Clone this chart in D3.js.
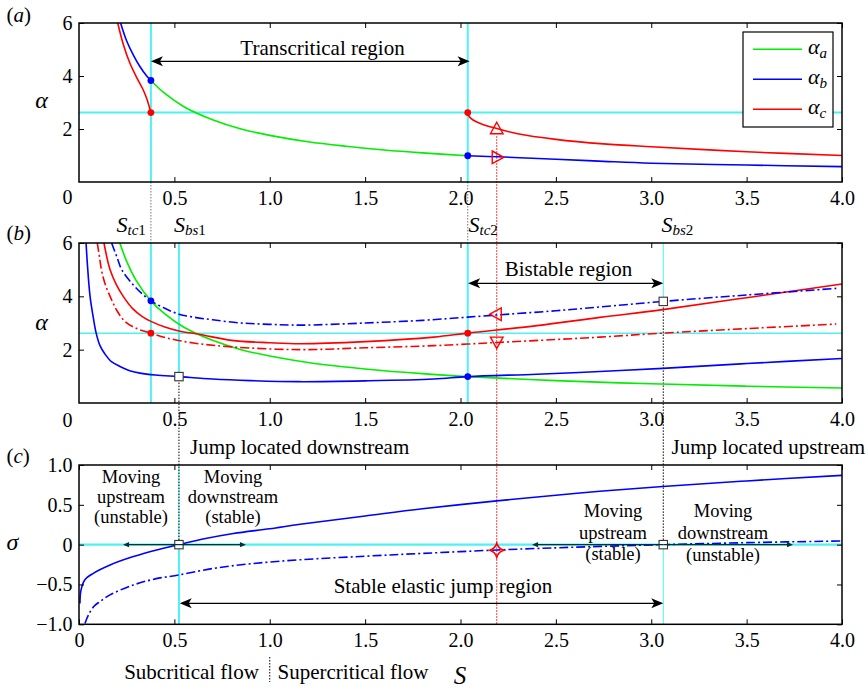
<!DOCTYPE html>
<html><head><meta charset="utf-8">
<script src="https://cdn.jsdelivr.net/npm/d3@7"></script>
<style>
body{margin:0;background:#fff}
svg{display:block}
text{font-family:"Liberation Serif","Times New Roman",serif;fill:#000}
</style>
</head><body>
<svg id="chart" width="868" height="692"></svg>
<script>
// ---------- data ----------
const S_tc1 = 0.377, S_bs1 = 0.524, S_tc2 = 2.038, S_bs2 = 3.063, S_mk = 2.19, alphaC = 2.618;

const xTickVals = [0.5, 1.0, 1.5, 2.0, 2.5, 3.0, 3.5, 4.0];
const xTickLabels = ["0.5", "1.0", "1.5", "2.0", "2.5", "3.0", "3.5", "4.0"];
const cXTickVals = [0, 0.5, 1.0, 1.5, 2.0, 2.5, 3.0, 3.5, 4.0];
const cXTickLabels = ["0", "0.5", "1.0", "1.5", "2.0", "2.5", "3.0", "3.5", "4.0"];
const abYTickVals = [2, 4, 6];
const abYTickLabels = ["2", "4", "6"];
const cYTickVals = [-1, -0.5, 0, 0.5, 1];
const cYTickLabels = ["\u22121.0", "\u22120.5", "0", "0.5", "1.0"];

// panel (a): [S, alpha]
const aGreen = [[0.377,3.83],[0.45,3.34],[0.55,2.84],[0.7,2.35],[0.85,2.0],[1.0,1.76],[1.2,1.52],[1.4,1.35],[1.6,1.21],[1.8,1.1],[2.038,0.99]];
const aBlueLeft = [[0.218,6.0],[0.25,5.32],[0.285,4.79],[0.32,4.35],[0.355,4.0],[0.377,3.83]];
const aRedLeft = [[0.203,6.0],[0.232,5.2],[0.267,4.48],[0.302,3.95],[0.335,3.5],[0.355,3.15],[0.368,2.85],[0.377,2.62]];
const aRedRight = [[2.038,2.62],[2.043,2.5],[2.056,2.39],[2.08,2.28],[2.12,2.16],[2.19,2.02],[2.3,1.82],[2.5,1.61],[2.75,1.44],[3.0,1.33],[3.5,1.14],[4.0,1.0]];
const aBlueRight = [[2.038,0.99],[2.2,0.95],[2.5,0.86],[2.75,0.78],[3.0,0.71],[3.5,0.64],[4.0,0.58]];
const aBlueDots = [[S_tc1,3.83],[S_tc2,0.99]];
const aRedDots = [[S_tc1,alphaC],[S_tc2,alphaC]];
const aTriUp = [[S_mk,1.99]];
const aTriRight = [[S_mk,0.93]];

// panel (b): [S, alpha]
const bGreen = [[0.214,6.0],[0.25,5.31],[0.3,4.59],[0.377,3.83],[0.45,3.34],[0.55,2.84],[0.7,2.35],[0.85,2.0],[1.0,1.76],[1.2,1.52],[1.4,1.35],[1.6,1.21],[1.8,1.1],[2.038,0.99],[2.5,0.84],[3.0,0.72],[3.5,0.63],[4.0,0.56]];
const bBlueSolid = [[0.037,6.0],[0.045,5.1],[0.058,4.0],[0.075,3.2],[0.09,2.62],[0.11,2.15],[0.135,1.85],[0.17,1.55],[0.215,1.37],[0.27,1.2],[0.32,1.12],[0.4,1.05],[0.524,0.99],[0.7,0.9],[0.9,0.84],[1.15,0.8],[1.5,0.83],[1.86,0.9],[2.038,0.99],[2.4,1.08],[2.73,1.18],[3.06,1.3],[3.5,1.48],[4.0,1.67]];
const bBlueDash = [[0.171,6.0],[0.2,5.45],[0.224,5.0],[0.276,4.5],[0.33,4.1],[0.377,3.83],[0.45,3.55],[0.524,3.33],[0.6,3.22],[0.7,3.12],[0.85,3.0],[1.0,2.95],[1.16,2.92],[1.5,3.0],[1.8,3.1],[2.038,3.22],[2.19,3.3],[2.5,3.46],[2.73,3.6],[3.06,3.81],[3.5,4.05],[3.97,4.3]];
const bRedSolid = [[0.131,6.0],[0.145,5.5],[0.163,5.0],[0.195,4.45],[0.232,4.0],[0.28,3.55],[0.33,3.25],[0.377,3.06],[0.45,2.85],[0.524,2.7],[0.634,2.57],[0.8,2.35],[1.0,2.26],[1.16,2.22],[1.5,2.3],[1.86,2.47],[2.038,2.62],[2.4,2.9],[2.73,3.21],[3.06,3.5],[3.5,3.95],[4.0,4.46]];
const bRedDash = [[0.096,6.0],[0.107,5.5],[0.119,4.94],[0.14,4.4],[0.171,3.87],[0.2,3.45],[0.241,3.06],[0.3,2.8],[0.377,2.62],[0.46,2.44],[0.6,2.25],[0.81,2.1],[1.16,2.0],[1.5,2.07],[1.86,2.15],[2.038,2.21],[2.19,2.27],[2.5,2.38],[2.73,2.47],[3.06,2.62],[3.5,2.79],[3.97,2.96]];
const bBlueDots = [[S_tc1,3.83],[S_tc2,0.99]];
const bRedDots = [[S_tc1,alphaC],[S_tc2,alphaC]];
const bSquares = [[S_bs1,0.99],[S_bs2,3.81]];
const bTriLeft = [[S_mk,3.33]];
const bTriDown = [[S_mk,2.3]];

// panel (c): [S, sigma]
const cBlueSolid = [[0.005,-0.74],[0.0105,-0.57],[0.031,-0.44],[0.075,-0.36],[0.163,-0.255],[0.285,-0.15],[0.407,-0.067],[0.524,0.0],[0.65,0.07],[0.809,0.14],[1.0,0.2],[1.159,0.256],[1.5,0.36],[1.8,0.45],[2.19,0.55],[2.5,0.62],[2.73,0.67],[3.06,0.73],[3.5,0.8],[4.0,0.87]];
const cBlueDash = [[0.031,-0.99],[0.05,-0.88],[0.08,-0.77],[0.11,-0.715],[0.163,-0.63],[0.285,-0.506],[0.4,-0.43],[0.524,-0.38],[0.7,-0.3],[0.9,-0.24],[1.159,-0.19],[1.5,-0.145],[1.8,-0.11],[2.19,-0.067],[2.5,-0.04],[2.73,-0.022],[3.06,0.0],[3.5,0.025],[4.0,0.046]];
const cSquares = [[S_bs1,0],[S_bs2,0]];
const cDiamond = [[S_mk,-0.07]];

// ---------- drawing ----------
const svg = d3.select("#chart");
const CY = "#4ff2f2", BL = "#0000ff", RD = "#ff0000", GR = "#00ee00";
const DASHDOT = "9,3,2,3";

const x = d3.scaleLinear().domain([0, 4]).range([79, 842]);
const ya = d3.scaleLinear().domain([0, 6]).range([182, 23]);
const yb = d3.scaleLinear().domain([0, 6]).range([403, 243]);
const yc = d3.scaleLinear().domain([-1, 1]).range([624.3, 465]);

const gCyan = svg.append("g");
const gDot = svg.append("g");
const gCurve = svg.append("g");
const gMark = svg.append("g");
const gAnno = svg.append("g");
const gAxis = svg.append("g");

function vline(g, s, y1, y2, color, w, dash) {
  g.append("line").attr("x1", x(s)).attr("x2", x(s)).attr("y1", y1).attr("y2", y2)
    .attr("stroke", color).attr("stroke-width", w).attr("stroke-dasharray", dash || null);
}
function hline(g, y, yv, color, w) {
  g.append("line").attr("x1", x(0)).attr("x2", x(4)).attr("y1", y(yv)).attr("y2", y(yv))
    .attr("stroke", color).attr("stroke-width", w);
}

// cyan guide lines
vline(gCyan, S_tc1, ya(6), ya(0), CY, 2);
vline(gCyan, S_tc2, ya(6), ya(0), CY, 2);
hline(gCyan, ya, alphaC, CY, 2);
vline(gCyan, S_tc1, yb(6), yb(0), CY, 2);
vline(gCyan, S_tc2, yb(6), yb(0), CY, 2);
vline(gCyan, S_bs1, yb(6), yb(bSquares[0][1]), CY, 2);
vline(gCyan, S_bs2, yb(6), yb(bSquares[1][1]), CY, 1);
hline(gCyan, yb, alphaC, CY, 1.5);
hline(gCyan, yc, 0, CY, 2.2);
vline(gCyan, S_bs1, yc(1), yc(-1), CY, 1);
vline(gCyan, S_bs1, yc(0), yc(-1), CY, 2);
vline(gCyan, S_bs2, yc(0), yc(-1), CY, 1);

// dotted connectors
vline(gDot, S_tc1, ya(0), yb(6), "#777", 1, "1.5,1.5");
vline(gDot, S_tc2, ya(0), yb(6), "#777", 1, "1.5,1.5");
vline(gDot, S_mk, ya(aTriUp[0][1]) + 7, yc(-1), RD, 1, "1.5,1.5");
vline(gDot, S_bs1, yb(bSquares[0][1]), yc(0), "#000", 1, "1.5,1.5");
vline(gDot, S_bs2, yb(bSquares[1][1]), yc(0), "#000", 1, "1.5,1.5");
vline(gDot, 1.0, 657, 682, "#000", 1, "1.5,1.5");

// curves
function curve(data, y, color, dash, w) {
  const ln = d3.line().x(d => x(d[0])).y(d => y(d[1])).curve(d3.curveCatmullRom.alpha(0.5));
  gCurve.append("path").attr("d", ln(data)).attr("fill", "none").attr("stroke", color)
    .attr("stroke-width", w || 1.6).attr("stroke-dasharray", dash || null);
}
curve(aGreen, ya, GR);
curve(aBlueLeft, ya, BL);
curve(aRedLeft, ya, RD);
curve(aRedRight, ya, RD);
curve(aBlueRight, ya, BL);

curve(bGreen, yb, GR);
curve(bRedSolid, yb, RD);
curve(bRedDash, yb, RD, DASHDOT);
curve(bBlueDash, yb, BL, DASHDOT);
curve(bBlueSolid, yb, BL);

curve(cBlueDash, yc, BL, DASHDOT);
curve(cBlueSolid, yc, BL);

// "moving" arrows on sigma = 0 (panel c)
function smallArrow(s0, s1) {
  const y0 = yc(0), x0 = x(s0), x1 = x(s1), dir = Math.sign(x1 - x0);
  gAnno.append("line").attr("x1", x0).attr("x2", x1 - dir * 3).attr("y1", y0).attr("y2", y0)
    .attr("stroke", "#033").attr("stroke-width", 1.3);
  gAnno.append("path").attr("d", `M${x1},${y0}L${x1 - dir * 6},${y0 - 2.6}L${x1 - dir * 6},${y0 + 2.6}Z`)
    .attr("fill", "#033");
}
smallArrow(S_bs1, 0.231);
smallArrow(S_bs1, 0.875);
smallArrow(S_bs2, 2.375);
smallArrow(S_bs2, 3.743);

// markers
function dots(data, y, color) {
  gMark.selectAll(null).data(data).enter().append("circle")
    .attr("cx", d => x(d[0])).attr("cy", d => y(d[1])).attr("r", 3.4).attr("fill", color);
}
function squares(data, y) {
  gMark.selectAll(null).data(data).enter().append("rect")
    .attr("x", d => x(d[0]) - 4.2).attr("y", d => y(d[1]) - 4.2).attr("width", 8.4).attr("height", 8.4)
    .attr("fill", "#fff").attr("stroke", "#333").attr("stroke-width", 1.1);
}
function triangles(data, y, rot) {
  gMark.selectAll(null).data(data).enter().append("path")
    .attr("d", "M0,-7L6.3,4.5L-6.3,4.5Z")
    .attr("transform", d => `translate(${x(d[0])},${y(d[1])}) rotate(${rot})`)
    .attr("fill", "none").attr("stroke", RD).attr("stroke-width", 1.4);
}
function diamonds(data, y) {
  gMark.selectAll(null).data(data).enter().append("path")
    .attr("d", "M0,-7Q1.6,-1.6 7,0Q1.6,1.6 0,7Q-1.6,1.6 -7,0Q-1.6,-1.6 0,-7Z")
    .attr("transform", d => `translate(${x(d[0])},${y(d[1])})`)
    .attr("fill", "none").attr("stroke", RD).attr("stroke-width", 1.6);
}
dots(aBlueDots, ya, BL); dots(aRedDots, ya, RD);
triangles(aTriUp, ya, 0); triangles(aTriRight, ya, 90);
dots(bBlueDots, yb, BL); dots(bRedDots, yb, RD);
squares(bSquares, yb);
triangles(bTriLeft, yb, -90); triangles(bTriDown, yb, 180);
squares(cSquares, yc);
diamonds(cDiamond, yc);

// double arrows
function bigArrowHead(tx, ty, dir) {
  gAnno.append("path")
    .attr("d", `M${tx},${ty}L${tx - dir * 12},${ty - 5}L${tx - dir * 9},${ty}L${tx - dir * 12},${ty + 5}Z`)
    .attr("fill", "#000");
}
function doubleArrow(s1, s2, yPix) {
  gAnno.append("line").attr("x1", x(s1) + 6).attr("x2", x(s2) - 6).attr("y1", yPix).attr("y2", yPix)
    .attr("stroke", "#000").attr("stroke-width", 1.3);
  bigArrowHead(x(s1), yPix, -1);
  bigArrowHead(x(s2), yPix, 1);
}
doubleArrow(S_tc1, S_tc2 + 0.01, 61.3);
doubleArrow(S_tc2 + 0.002, S_bs2, 283.3);
doubleArrow(S_bs1 + 0.004, S_bs2, 603.3);

function txt(g, str, xp, yp, size, anchor, italic) {
  return g.append("text").attr("x", xp).attr("y", yp).attr("font-size", size)
    .attr("text-anchor", anchor || "start").attr("font-style", italic ? "italic" : null).text(str);
}
txt(gAnno, "Transcritical region", 322.5, 55, 21, "middle");
txt(gAnno, "Bistable region", 568.5, 276, 21, "middle");
txt(gAnno, "Stable elastic jump region", 443, 593, 21, "middle");
txt(gAnno, "Jump located downstream", 190, 454, 21, "start");
txt(gAnno, "Jump located upstream", 671.5, 454, 21, "start");
txt(gAnno, "Subcritical flow", 191.5, 679, 21, "middle");
txt(gAnno, "Supercritical flow", 353, 679, 21, "middle");
txt(gAnno, "S", 460, 684, 25, "middle", true);

function block(lines, cx, ys) {
  lines.forEach((l, i) => txt(gAnno, l, cx, ys[i], 18.5, "middle"));
}
block(["Moving", "upstream", "(unstable)"], 131, [483, 503, 523]);
block(["Moving", "downstream", "(stable)"], 233, [483, 503, 523]);
block(["Moving", "upstream", "(stable)"], 613, [517, 539, 560]);
block(["Moving", "downstream", "(unstable)"], 723, [517, 539, 561]);

// S labels above panel (b)
function sLabel(xp, sub1, sub2) {
  const t = gAnno.append("text").attr("x", xp).attr("y", 232).attr("font-size", 22);
  t.append("tspan").attr("font-style", "italic").text("S");
  t.append("tspan").attr("font-style", "italic").attr("font-size", 15).attr("dy", 3).text(sub1);
  t.append("tspan").attr("font-size", 15).text(sub2);
}
sLabel(116.5, "tc", "1");
sLabel(174, "bs", "1");
sLabel(468.5, "tc", "2");
sLabel(661.5, "bs", "2");

// panel letters & y-axis symbols
function panelLabel(letter, yp) {
  const t = gAnno.append("text").attr("x", 6.5).attr("y", yp).attr("font-size", 21);
  t.append("tspan").text("(");
  t.append("tspan").attr("font-style", "italic").text(letter);
  t.append("tspan").text(")");
}
panelLabel("a", 22);
panelLabel("b", 240);
panelLabel("c", 463);
txt(gAnno, "\u03b1", 41.5, 108, 24, "middle", true);
txt(gAnno, "\u03b1", 41.5, 330, 24, "middle", true);
txt(gAnno, "\u03c3", 12.5, 550, 24, "middle", true);

// axes & frames
function panelAxes(y, xVals, xLabs, yVals, yLabs) {
  const [y0, y1] = y.range();
  const g = gAxis.append("g");
  const style = sel => {
    sel.select(".domain").remove();
    sel.attr("font-family", null).attr("font-size", 20);
    sel.selectAll("line").attr("stroke", "#000").attr("stroke-width", 1);
    sel.selectAll("text").attr("fill", "#000");
  };
  g.append("g").attr("transform", `translate(0,${y0})`)
    .call(d3.axisBottom(x).tickValues(xVals).tickFormat((d, i) => xLabs[i]).tickSize(-5).tickPadding(8.5)).call(style);
  g.append("g").attr("transform", `translate(0,${y1})`)
    .call(d3.axisTop(x).tickValues(xVals).tickFormat("").tickSize(-5)).call(style);
  g.append("g").attr("transform", `translate(${x(0)},0)`)
    .call(d3.axisLeft(y).tickValues(yVals).tickFormat((d, i) => yLabs[i]).tickSize(-5).tickPadding(6.5)).call(style);
  g.append("g").attr("transform", `translate(${x(4)},0)`)
    .call(d3.axisRight(y).tickValues(yVals).tickFormat("").tickSize(-5)).call(style);
  g.append("rect").attr("x", x(0)).attr("y", y1).attr("width", x(4) - x(0)).attr("height", y0 - y1)
    .attr("fill", "none").attr("stroke", "#000").attr("stroke-width", 1.5);
}
panelAxes(ya, xTickVals, xTickLabels, abYTickVals, abYTickLabels);
panelAxes(yb, xTickVals, xTickLabels, abYTickVals, abYTickLabels);
panelAxes(yc, cXTickVals, cXTickLabels, cYTickVals, cYTickLabels);
// corner zero labels for panels (a) and (b)
txt(gAxis, "0", 72.5, ya(0) + 21.5, 20, "end");
txt(gAxis, "0", 72.5, yb(0) + 23.7, 20, "end");

// legend
const lg = gAxis.append("g");
lg.append("rect").attr("x", 743).attr("y", 32).attr("width", 90).attr("height", 95)
  .attr("fill", "#fff").attr("stroke", "#000").attr("stroke-width", 1.2);
const legendItems = [["a", GR], ["b", BL], ["c", RD]];
legendItems.forEach((it, i) => {
  const yy = 49.3 + i * 30;
  lg.append("line").attr("x1", 753).attr("x2", 802).attr("y1", yy).attr("y2", yy)
    .attr("stroke", it[1]).attr("stroke-width", 1.6);
  const t = lg.append("text").attr("x", 808).attr("y", yy + 4.5).attr("font-size", 22).attr("font-style", "italic");
  t.append("tspan").text("\u03b1");
  t.append("tspan").attr("font-size", 15).attr("dy", 4).text(it[0]);
});
</script>
</body></html>
